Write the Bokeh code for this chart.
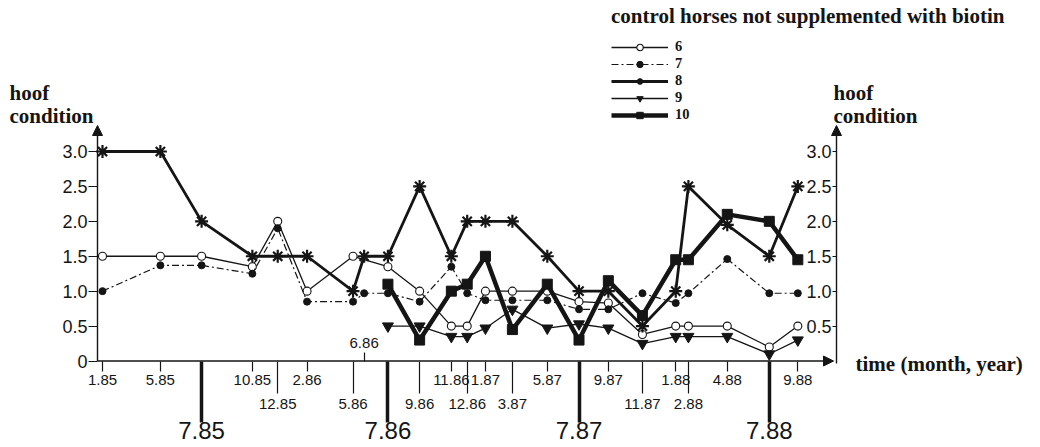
from bokeh.plotting import figure
from bokeh.models import (LinearAxis, FixedTicker, Range1d, Arrow, NormalHead,
                          Legend, LegendItem, AllLabels)
from bokeh.embed import file_html
from bokeh.resources import INLINE
from bokeh.core.properties import value

# ---------------- data ----------------
# sampling dates (month.year) and their position in months since 1.85
sample_labels = ["1.85", "5.85", "7.85", "10.85", "12.85", "2.86", "5.86", "6.86",
                 "7.86", "9.86", "11.86", "12.86", "1.87", "3.87", "5.87", "7.87",
                 "9.87", "11.87", "1.88", "2.88", "4.88", "7.88", "9.88"]
sample_month = [0.0, 3.65, 6.25, 9.45, 11.05, 12.9, 15.8, 16.5,
                18.0, 20.0, 22.0, 23.0, 24.15, 25.85, 28.05, 30.05,
                31.9, 34.05, 36.15, 36.95, 39.4, 42.05, 43.85]

horse_6 = [1.5, 1.5, 1.5, 1.35, 2.0, 1.0, 1.5, None,
           1.35, 1.0, 0.5, 0.5, 1.0, 1.0, 1.0, 0.85,
           0.83, 0.38, 0.5, 0.5, 0.5, 0.2, 0.5]
horse_7 = [1.0, 1.37, 1.37, 1.25, 1.9, 0.85, 0.85, 0.97,
           0.97, 0.85, 1.35, 0.97, 0.87, 0.87, 0.87, 0.74,
           0.74, 0.97, 0.83, 0.97, 1.46, 0.97, 0.97]
horse_8 = [3.0, 3.0, 2.0, 1.5, 1.5, 1.5, 1.0, 1.5,
           1.5, 2.5, 1.5, 2.0, 2.0, 2.0, 1.5, 1.0,
           1.0, 0.5, 1.0, 2.5, 1.95, 1.5, 2.5]
horse_9 = [None, None, None, None, None, None, None, None,
           0.5, 0.5, 0.35, 0.35, 0.47, 0.74, 0.47, 0.53,
           0.47, 0.25, 0.35, 0.35, 0.35, 0.1, 0.3]
horse_10 = [None, None, None, None, None, None, None, None,
            1.1, 0.3, 1.0, 1.1, 1.5, 0.45, 1.1, 0.3,
            1.15, 0.65, 1.45, 1.45, 2.1, 2.0, 1.45]

horse_names = ["6", "7", "8", "9", "10"]
horse_values = [horse_6, horse_7, horse_8, horse_9, horse_10]

upper_row = ["1.85", "5.85", "10.85", "2.86", "11.86", "1.87", "5.87", "9.87", "1.88", "4.88", "9.88"]
lower_row = ["12.85", "5.86", "9.86", "12.86", "3.87", "11.87", "2.88"]
year_marks = ["7.85", "7.86", "7.87", "7.88"]
above_row = ["6.86"]
y_ticks = [0, 0.5, 1.0, 1.5, 2.0, 2.5, 3.0]
y_tick_labels = ["0", "0.5", "1.0", "1.5", "2.0", "2.5", "3.0"]

legend_title = "control horses not supplemented with biotin"

# ---------------- styles ----------------
INK = "#151515"
styles = {
    "6": dict(marker="circle", size=8, fill="white", lw=1.3, dash="solid", mlw=1.1),
    "7": dict(marker="circle", size=7, fill=INK, lw=1.2, dash="7 3 2 3", mlw=1),
    "8": dict(marker="asterisk", size=13, fill=INK, lw=2.8, dash="solid", mlw=2.2),
    "9": dict(marker="inverted_triangle", size=11, fill=INK, lw=1.3, dash="solid", mlw=1),
    "10": dict(marker="square", size=10, fill=INK, lw=4.5, dash="solid", mlw=1),
}

# ---------------- layout geometry ----------------
W, H = 1040, 447
PX_X = 15.857      # pixels per month
X0 = 102.0         # pixel of month 0
PX_Y = 69.83       # pixels per hoof-condition unit
Y0 = 360.5         # pixel of condition 0


def sx(fx):
    return (fx - X0) / PX_X


def sy(fy):
    return (Y0 - fy) / PX_Y


p = figure(width=W, height=H, output_backend="svg", toolbar_location=None,
           x_axis_location=None, y_axis_location=None, title=None,
           x_range=Range1d(sx(0), sx(W)), y_range=Range1d(sy(H), sy(0)),
           min_border=0, min_border_left=0, min_border_right=0,
           min_border_top=0, min_border_bottom=0)
p.outline_line_color = None
p.grid.visible = False
p.background_fill_color = "white"
p.border_fill_color = "white"

month_of = dict(zip(sample_labels, sample_month))

# ---------------- series ----------------
items = []
for name, vals in zip(horse_names, horse_values):
    st = styles[name]
    xs = [m for m, v in zip(sample_month, vals) if v is not None]
    ys = [v for v in vals if v is not None]
    ln = p.line(xs, ys, line_color=INK, line_width=st["lw"], line_dash=st["dash"],
                line_join="round")
    sc = p.scatter(xs, ys, marker=st["marker"], size=st["size"], fill_color=st["fill"],
                   line_color=INK, line_width=st["mlw"])
    items.append(LegendItem(label=name, renderers=[ln, sc]))

legend = Legend(items=items, title=legend_title, location=(611, 324),
                orientation="vertical")
legend.title_text_font = "Liberation Serif"
legend.title_text_font_size = "21px"
legend.title_text_font_style = "bold"
legend.title_text_color = INK
legend.title_standoff = 9
legend.label_text_font = "Liberation Serif"
legend.label_text_font_size = "14.5px"
legend.label_text_font_style = "bold"
legend.label_text_color = INK
legend.glyph_width = 57
legend.glyph_height = 16
legend.label_height = 16
legend.spacing = 0
legend.padding = 0
legend.margin = 0
legend.label_standoff = 7
legend.border_line_color = None
legend.background_fill_alpha = 0
p.add_layout(legend)

# ---------------- axes ----------------
x_left = sx(97)
x_right = sx(836)
y_top = sy(125)


def x_axis(labels, where, tick_out, standoff, font_size, tick_width=1.2):
    ticks = [month_of[l] for l in labels]
    ax = LinearAxis(fixed_location=0,
                    ticker=FixedTicker(ticks=ticks, minor_ticks=[]),
                    major_label_overrides={t: l for t, l in zip(ticks, labels)},
                    major_label_policy=AllLabels(),
                    major_tick_in=0, major_tick_out=tick_out,
                    major_tick_line_width=tick_width, major_tick_line_color=INK,
                    minor_tick_in=0, minor_tick_out=0,
                    axis_line_color=None,
                    major_label_standoff=standoff,
                    major_label_text_font="Liberation Sans",
                    major_label_text_font_size=font_size,
                    major_label_text_color=INK)
    p.add_layout(ax, where)


x_axis(upper_row, "below", 10, 4, "15px")
x_axis(lower_row, "below", 32, 6, "15px")
x_axis(year_marks, "below", 61, 0, "24px", tick_width=3.5)
x_axis(above_row, "above", 9, 4, "15px")


def y_axis(loc, ticks, labels, tick_out, standoff):
    ax = LinearAxis(fixed_location=loc,
                    ticker=FixedTicker(ticks=ticks, minor_ticks=[]),
                    major_label_overrides={float(t): l for t, l in zip(ticks, labels)},
                    major_label_policy=AllLabels(),
                    major_tick_in=0, major_tick_out=tick_out,
                    major_tick_line_width=1.2, major_tick_line_color=INK,
                    minor_tick_in=0, minor_tick_out=0,
                    axis_line_color=None,
                    major_label_standoff=standoff,
                    major_label_text_font="Liberation Sans",
                    major_label_text_font_size="18px",
                    major_label_text_color=INK)
    p.add_layout(ax, "left")


y_axis(x_left, y_ticks, y_tick_labels, 9, 1)
y_axis(x_right, y_ticks[1:], y_tick_labels[1:], 4, 1)

head = dict(size=10, fill_color=INK, line_color=INK, line_width=1)
p.add_layout(Arrow(end=NormalHead(**head), x_start=x_left, y_start=0, x_end=x_left, y_end=y_top,
                   line_color=INK, line_width=1.4))
p.add_layout(Arrow(end=NormalHead(**head), x_start=x_left, y_start=0, x_end=sx(833), y_end=0,
                   line_color=INK, line_width=1.4))
p.add_layout(Arrow(end=NormalHead(**head), x_start=x_right, y_start=sy(363), x_end=x_right,
                   y_end=y_top, line_color=INK, line_width=1.4))

# ---------------- axis titles ----------------
serif = dict(text_font=value("Liberation Serif"), text_font_style="bold",
             text_font_size="21px", text_color=INK, text_baseline="alphabetic",
             text_align="left")
p.text(x=[sx(9), sx(9), sx(833), sx(833)], y=[sy(92), sy(115), sy(92), sy(115)],
       text=["hoof", "condition", "hoof", "condition"], **serif)
p.text(x=[sx(855)], y=[sy(363)], text=["time (month, year)"], **serif)

open("out.html", "w").write(file_html(p, INLINE))
